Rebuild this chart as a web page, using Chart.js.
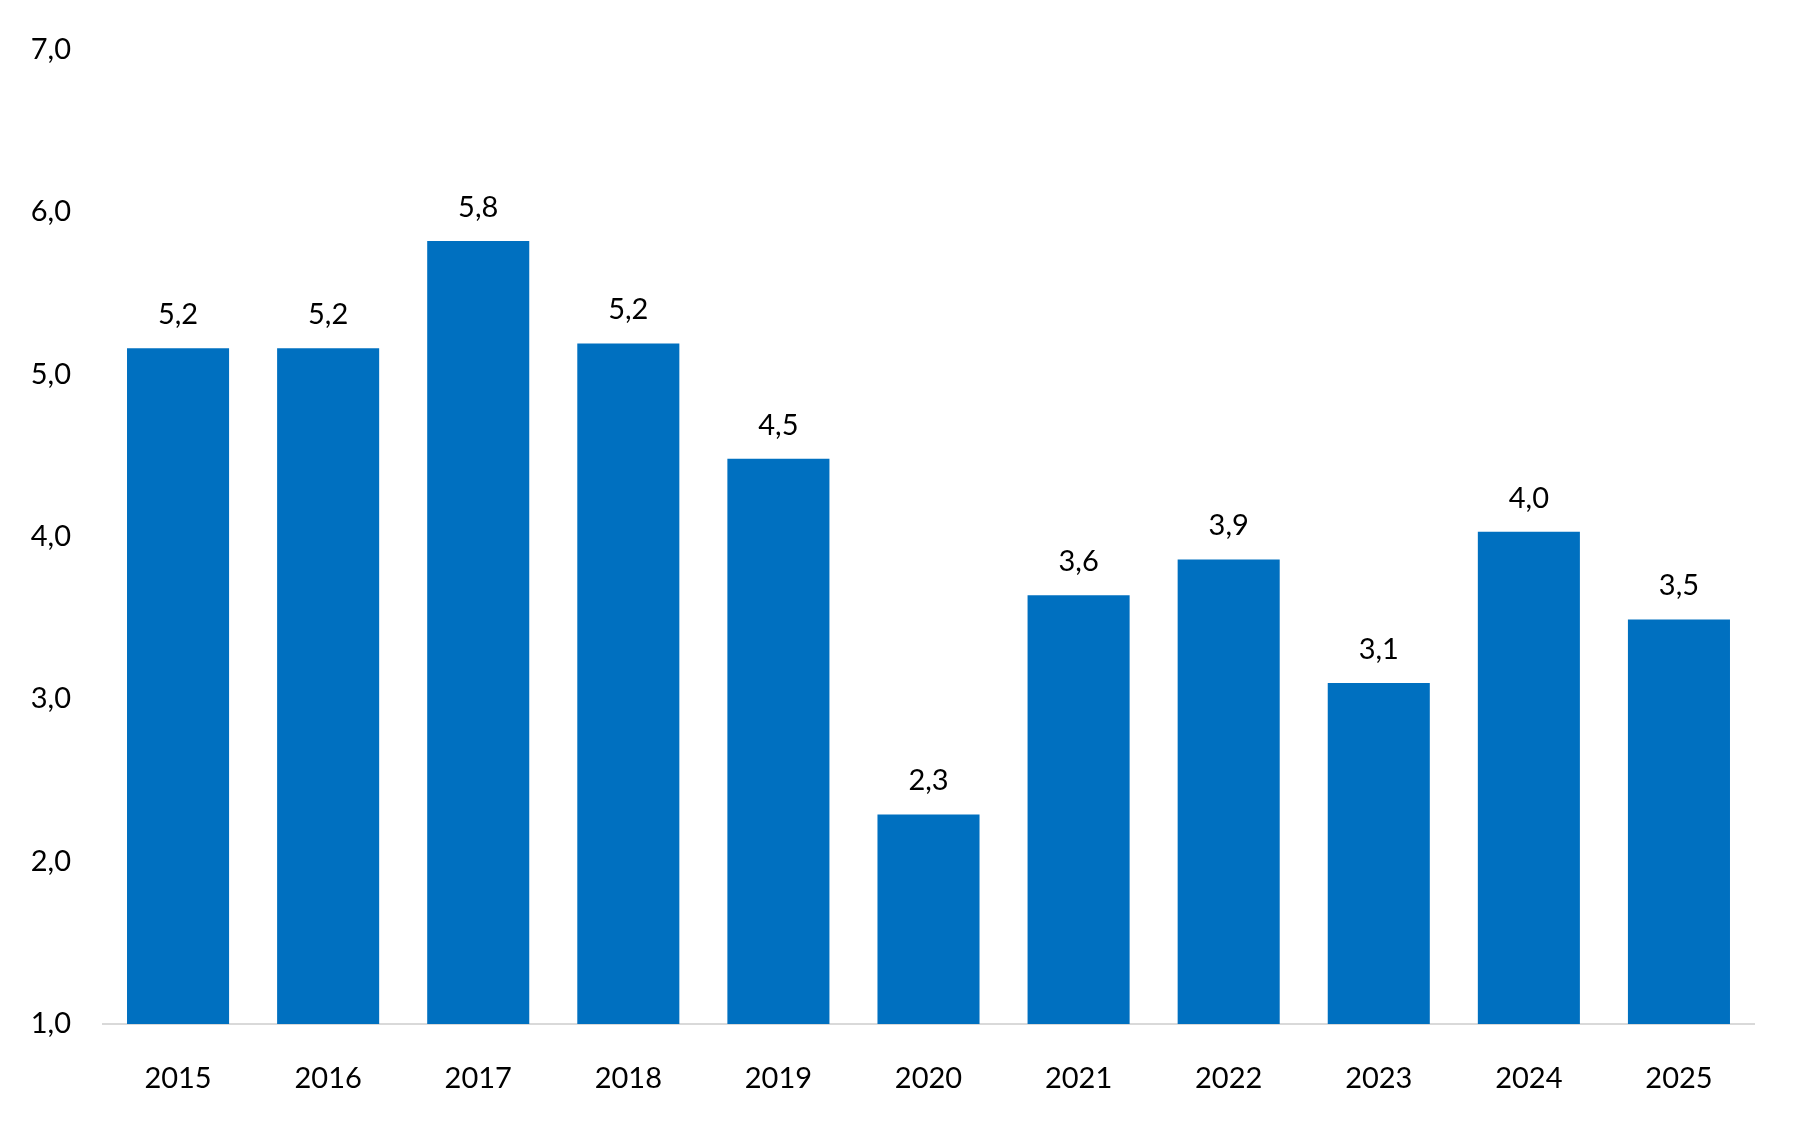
<!DOCTYPE html>
<html>
<head>
<meta charset="utf-8">
<script src="https://cdn.jsdelivr.net/npm/chart.js@4"></script>
<style>
  html, body { margin: 0; padding: 0; background: #fff; }
  #wrap { width: 1800px; height: 1122px; }
</style>
</head>
<body>
<div id="wrap"><canvas id="chart"></canvas></div>
<script>
// ---- Data
const years = ["2015", "2016", "2017", "2018", "2019", "2020", "2021", "2022", "2023", "2024", "2025"];
const values = [5.16, 5.16, 5.82, 5.19, 4.48, 2.29, 3.64, 3.86, 3.10, 4.03, 3.49];
const yMin = 1;
const yMax = 7;

const FONT = "Lato, 'Open Sans', sans-serif";

function comma(v) {
  return v.toFixed(1).replace(".", ",");
}

// ---- Value labels above each bar
const barLabels = {
  id: "barLabels",
  afterDatasetsDraw: function (chart) {
    const ctx = chart.ctx;
    const meta = chart.getDatasetMeta(0);
    ctx.save();
    ctx.font = "29px " + FONT;
    ctx.fillStyle = "#000";
    ctx.textAlign = "center";
    ctx.textBaseline = "bottom";
    meta.data.forEach(function (bar, i) {
      ctx.fillText(comma(values[i]), bar.x, bar.y - 19);
    });
    ctx.restore();
  }
};

new Chart(document.getElementById("chart"), {
  type: "bar",
  data: {
    labels: years,
    datasets: [{
      data: values,
      backgroundColor: "#0070C0",
      categoryPercentage: 0.68,
      barPercentage: 1
    }]
  },
  options: {
    responsive: true,
    maintainAspectRatio: false,
    animation: false,
    layout: { padding: { top: 46, right: 46, left: 0, bottom: 0 } },
    plugins: { legend: { display: false }, tooltip: { enabled: false } },
    scales: {
      x: {
        grid: { display: false, drawTicks: false },
        border: { display: true, color: "#d9d9d9", width: 2 },
        ticks: {
          color: "#000",
          font: { family: FONT, size: 29 },
          padding: 37
        },
        afterFit: function (s) { s.height = 98; }
      },
      y: {
        min: yMin,
        max: yMax,
        grid: { display: false, drawTicks: false },
        border: { display: false },
        ticks: {
          stepSize: 1,
          color: "#000",
          font: { family: FONT, size: 29 },
          padding: 32,
          callback: function (v) { return comma(v); }
        },
        afterFit: function (s) { s.width = 103; }
      }
    }
  },
  plugins: [barLabels]
});
</script>
</body>
</html>
